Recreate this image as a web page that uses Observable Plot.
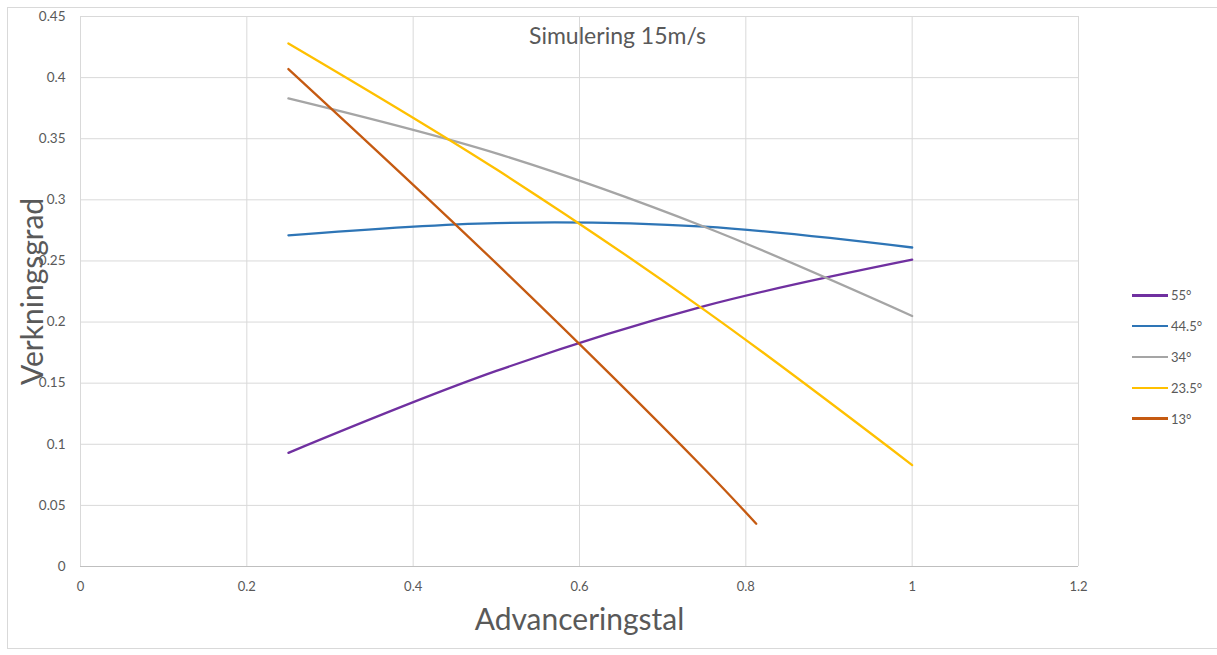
<!DOCTYPE html>
<html>
<head>
<meta charset="utf-8">
<script src="https://cdn.jsdelivr.net/npm/d3@7"></script>
<script src="https://cdn.jsdelivr.net/npm/@observablehq/plot@0.6"></script>
<style>
  html, body { margin: 0; padding: 0; background: #fff; }
  #wrap { position: relative; width: 1217px; height: 655px; overflow: hidden; font-family: Lato, "Open Sans", sans-serif; }
  #frame { position: absolute; left: 7px; top: 7px; width: 1220px; height: 642px; border: 1px solid #d9d9d9; box-sizing: border-box; }
  #chart { position: absolute; left: 0; top: 0; }
  #legend { position: absolute; left: 1132px; top: 280px; font-size: 13px; color: #595959; }
  .item { height: 30.8px; display: flex; align-items: center; }
  .sw { width: 36px; height: 2.5px; margin-right: 3px; }
</style>
</head>
<body>
<div id="wrap">
  <div id="frame"></div>
  <div id="chart"></div>
  <div id="legend"></div>
</div>
<script>
const seriesNames = ["55°", "44.5°", "34°", "23.5°", "13°"];
const seriesColors = ["#7030a0", "#2e75b6", "#a5a5a5", "#ffc000", "#c55a11"];
const xValues = [0.25, 0.5, 0.75, 1.0];
const x13 = [0.25, 0.5, 0.75, 0.8125];
const y55 = [0.093, 0.160, 0.213, 0.251];
const y445 = [0.271, 0.281, 0.278, 0.261];
const y34 = [0.383, 0.338, 0.278, 0.205];
const y235 = [0.428, 0.325, 0.210, 0.083];
const y13 = [0.407, 0.248, 0.080, 0.035];
const xTicks = [0, 0.2, 0.4, 0.6, 0.8, 1, 1.2];
const yTicks = [0, 0.05, 0.1, 0.15, 0.2, 0.25, 0.3, 0.35, 0.4, 0.45];
const title = "Simulering 15m/s";
const xLabel = "Advanceringstal";
const yLabel = "Verkningsgrad";

const seriesY = [y55, y445, y34, y235, y13];
const seriesX = [xValues, xValues, xValues, xValues, x13];
const data = [];
seriesNames.forEach((name, i) => {
  seriesY[i].forEach((v, j) => data.push({series: name, x: seriesX[i][j], y: v}));
});

const fmt = d => String(+d.toFixed(2));

const plot = Plot.plot({
  width: 1217,
  height: 655,
  marginLeft: 80,
  marginRight: 139,
  marginTop: 16,
  marginBottom: 89,
  style: {fontFamily: "Lato, 'Open Sans', sans-serif", background: "transparent", color: "#595959"},
  x: {domain: [0, 1.2]},
  y: {domain: [0, 0.45]},
  color: {domain: seriesNames, range: seriesColors},
  marks: [
    Plot.gridX(xTicks, {stroke: "#d9d9d9", strokeOpacity: 1, strokeWidth: 1}),
    Plot.gridY(yTicks, {stroke: "#d9d9d9", strokeOpacity: 1, strokeWidth: 1}),
    Plot.ruleY([0], {stroke: "#bfbfbf", strokeWidth: 1}),
    Plot.axisX({ticks: xTicks, tickFormat: fmt, tickSize: 0, tickPadding: 15, fontSize: 13, label: null}),
    Plot.axisY({ticks: yTicks, tickFormat: fmt, tickSize: 0, tickPadding: 15, fontSize: 13.5, label: null}),
    Plot.line(data, {x: "x", y: "y", z: "series", stroke: "series", strokeWidth: 2.3, curve: "catmull-rom"}),
    Plot.text([title], {frameAnchor: "top", dx: 38, dy: 11, fontSize: 23, fill: "#595959"}),
    Plot.text([xLabel], {frameAnchor: "bottom", dy: 63, fontSize: 30, fill: "#595959"}),
    Plot.text([yLabel], {frameAnchor: "left", textAnchor: "middle", dx: -47, rotate: -90, fontSize: 30, fill: "#595959"})
  ]
});
document.getElementById("chart").appendChild(plot);

const legend = document.getElementById("legend");
seriesNames.forEach((name, i) => {
  const item = document.createElement("div");
  item.className = "item";
  const sw = document.createElement("div");
  sw.className = "sw";
  sw.style.background = seriesColors[i];
  const t = document.createElement("span");
  t.textContent = name;
  item.appendChild(sw);
  item.appendChild(t);
  legend.appendChild(item);
});
</script>
</body>
</html>
